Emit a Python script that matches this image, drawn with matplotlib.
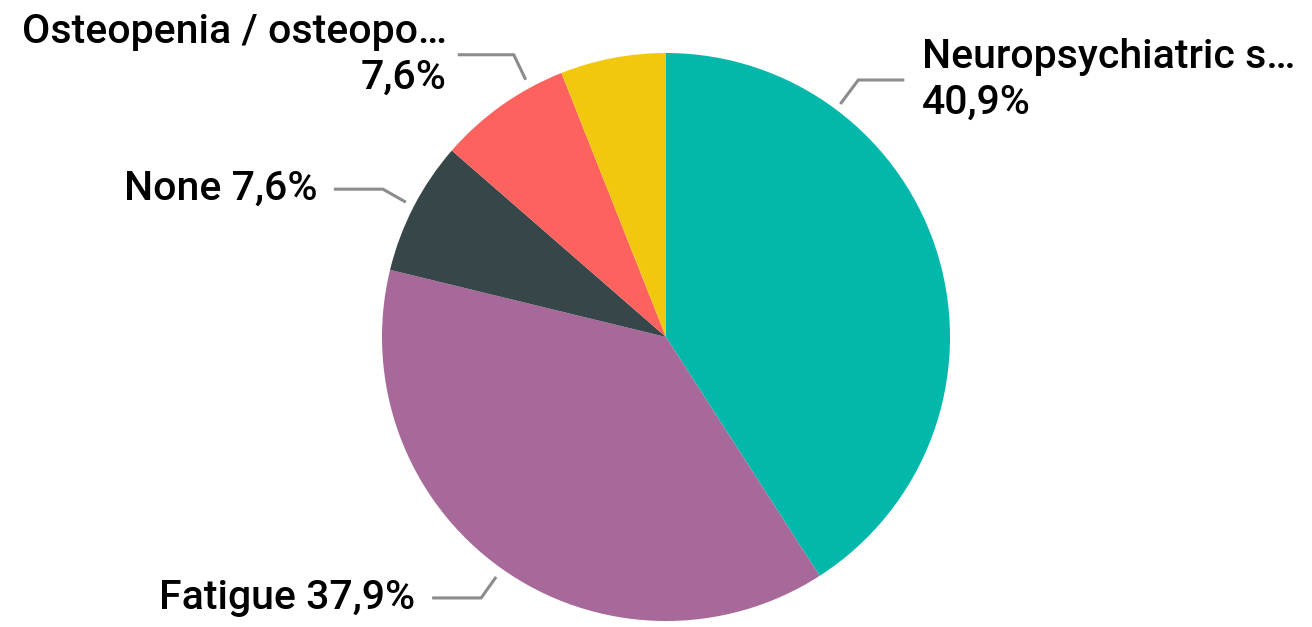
import numpy as np
import matplotlib
matplotlib.use("Agg")
import matplotlib.pyplot as plt

# ---- data ----
categories = ["Neuropsychiatric s…", "Fatigue", "None", "Osteopenia / osteopo…", "Other"]
values = [40.9, 37.9, 7.6, 7.6, 6.0]
label_texts = ["Neuropsychiatric s…\n40,9%", "Fatigue 37,9%", "None 7,6%",
               "Osteopenia / osteopo…\n7,6%", None]
colors = ["#01B8AA", "#A66999", "#374649", "#FD625E", "#F2C80F"]

W, H = 1312, 627
fig = plt.figure(figsize=(W / 100, H / 100), dpi=100)
ax = fig.add_axes([0, 0, 1, 1])

cx, cy, R = 666, H - 337, 284
ax.pie(values, colors=colors, startangle=90, counterclock=False,
       center=(cx, cy), radius=R, frame=True,
       wedgeprops=dict(linewidth=0))
ax.set_xlim(0, W)
ax.set_ylim(0, H)
ax.set_aspect("equal")
ax.axis("off")

# layout for leader lines: (start angle deg, start radius, elbow dx, elbow dy, horiz len, text gap)
layout = {
    0: (53.2, 291, 18, 24, 46, 18),
    1: (234.7, 294, -15, -21, -49, 17),
    2: (152.6, 293, -23, 13, -49, 16),
    3: (118.6, 293, -12, 25, -56, 11),
}

for i, txt in enumerate(label_texts):
    if txt is None:
        continue
    ang, rs, edx, edy, hl, gap = layout[i]
    a = np.deg2rad(ang)
    x0, y0 = cx + rs * np.cos(a), cy + rs * np.sin(a)
    x1, y1 = x0 + edx, y0 + edy
    x2 = x1 + hl
    ax.plot([x0, x1, x2], [y0, y1, y1], color="#8C8C8C", lw=2.2,
            solid_capstyle="butt", solid_joinstyle="miter")
    kw = dict(va="center", fontsize=29.5, family=["Roboto", "DejaVu Sans"],
              fontweight="medium", color="#000000", linespacing=1.25)
    if hl > 0:
        ax.text(x2 + gap, y1, txt, ha="left", multialignment="left", **kw)
    else:
        ax.text(x2 - gap, y1, txt, ha="right", multialignment="right", **kw)

fig.savefig("out.png", dpi=100, facecolor="white")
